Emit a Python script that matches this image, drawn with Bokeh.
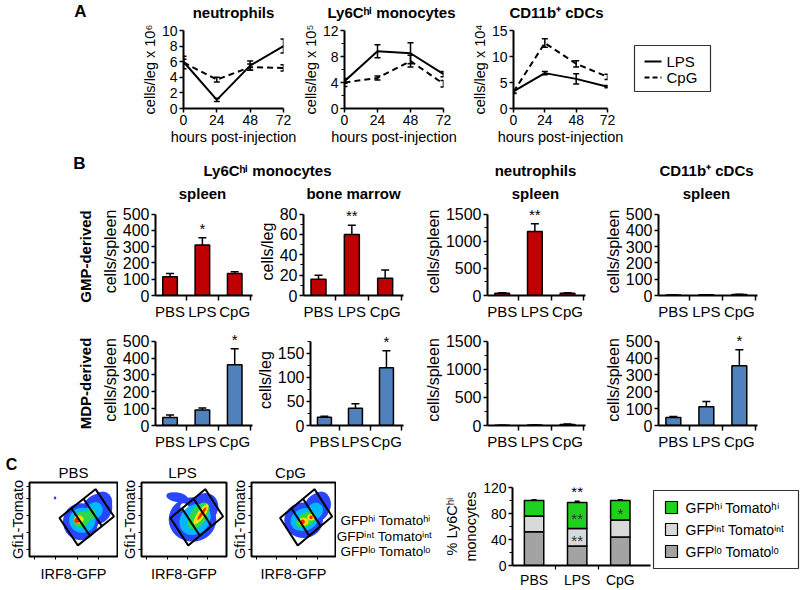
from bokeh.plotting import figure
from bokeh.models import (ColumnDataSource, Range1d, FixedTicker, Whisker, TeeHead,
                          CustomJSTickFormatter)
from bokeh.layouts import row, column
from bokeh.core.properties import value
from bokeh.embed import file_html
from bokeh.resources import INLINE

FONT = "Liberation Sans"

# ---------------- Panel A data (time course) ----------------
hours = [0, 24, 48, 72]
neut_lps = [6.0, 1.1, 5.5, 8.0]
neut_lps_err = [0.3, 0.2, 0.6, 0.9]
neut_cpg = [5.9, 3.7, 5.3, 5.2]
neut_cpg_err = [0.8, 0.3, 0.4, 0.4]
mono_lps = [4.2, 8.8, 8.5, 5.3]
mono_lps_err = [0.3, 1.0, 1.6, 0.4]
mono_cpg = [4.0, 4.7, 7.3, 3.8]
mono_cpg_err = [0.6, 0.3, 0.9, 0.5]
cdc_lps = [3.3, 6.8, 5.7, 4.2]
cdc_lps_err = [0.3, 0.3, 1.0, 0.2]
cdc_cpg = [3.2, 12.6, 8.6, 6.1]
cdc_cpg_err = [0.3, 0.8, 0.6, 0.5]

# ---------------- Panel B data (bars) ----------------
treatments = ["PBS", "LPS", "CpG"]
gmp_mono_spleen = [115, 310, 135]
gmp_mono_spleen_err = [20, 45, 10]
gmp_mono_spleen_sig = ["", "*", ""]
gmp_mono_bm = [16, 60, 17]
gmp_mono_bm_err = [4, 9, 8]
gmp_mono_bm_sig = ["", "**", ""]
gmp_neut_spleen = [40, 1180, 40]
gmp_neut_spleen_err = [10, 140, 12]
gmp_neut_spleen_sig = ["", "**", ""]
gmp_cdc_spleen = [3, 4, 6]
gmp_cdc_spleen_err = [1, 1, 2]
gmp_cdc_spleen_sig = ["", "", ""]
mdp_mono_spleen = [48, 92, 360]
mdp_mono_spleen_err = [15, 12, 95]
mdp_mono_spleen_sig = ["", "", "*"]
mdp_mono_bm = [17, 36, 120]
mdp_mono_bm_err = [2, 9, 35]
mdp_mono_bm_sig = ["", "", "*"]
mdp_neut_spleen = [3, 8, 20]
mdp_neut_spleen_err = [1, 3, 6]
mdp_neut_spleen_sig = ["", "", ""]
mdp_cdc_spleen = [47, 112, 355]
mdp_cdc_spleen_err = [7, 30, 95]
mdp_cdc_spleen_sig = ["", "", "*"]

# ---------------- Panel C data (stacked %) ----------------
gfp_lo = [52, 30, 44]
gfp_lo_err = [3, 4, 3]
gfp_int = [24, 27, 26]
gfp_int_err = [1, 2, 2]
gfp_hi = [24, 40, 30]
gfp_hi_err = [1, 2, 1]
sig_total = ["", "**", ""]
sig_hi = ["", "**", "*"]
sig_int = ["", "**", ""]

# flow density levels (blue, cyan, green, yellow, red, white)
level_colors = ["#2a45ff", "#00b8ff", "#2ed84a", "#ffe000", "#ff2200", "#ffffff"]
pbs_bx = [58, 77, 83, 29, 60, 74, 59, 70, 56, 54]
pbs_by = [47, 64, 74, 79, 49, 62, 50, 57, 50, 49]
pbs_bw = [40, 32, 22, 3, 30, 18, 20, 11, 11, 6]
pbs_bh = [50, 44, 28, 4, 34, 24, 20, 15, 11, 7]
pbs_ba = [0, -40, 0, 0, 0, -30, 30, -30, 0, 0]
pbs_bl = [0, 0, 0, 0, 1, 1, 2, 2, 3, 4]
lps_bx = [60, 74, 42, 51, 63, 67, 70, 71]
lps_by = [50, 66, 80, 66, 50, 55, 57, 58]
lps_bw = [56, 32, 26, 12, 40, 36, 28, 18]
lps_bh = [60, 40, 13, 10, 38, 22, 10, 4]
lps_ba = [0, -30, -10, -40, 45, 55, 55, 55]
lps_bl = [0, 0, 0, 5, 1, 2, 3, 4]
cpg_bx = [62, 78, 83, 63, 76, 65, 62, 71, 61, 71]
cpg_by = [49, 66, 76, 50, 62, 50, 47, 53, 47, 53]
cpg_bw = [46, 30, 20, 34, 18, 26, 12, 9, 5, 4]
cpg_bh = [48, 44, 24, 30, 22, 18, 11, 9, 6, 5]
cpg_ba = [0, -35, 0, 20, -30, 30, 0, 0, 0, 0]
cpg_bl = [0, 0, 0, 1, 1, 2, 3, 3, 4, 4]
gate_corner_x = [34, 75, 55]   # lower-left, upper, lower corners
gate_corner_y = [52, 91, 15]

RED = "#C00000"
BLUE = "#4F81BD"
GREEN = "#1FD01F"
LGREY = "#D9D9D9"
DGREY = "#A3A3A3"


def canvas(x0, x1, y0, y1):
    p = figure(width=x1 - x0, height=y1 - y0, x_range=Range1d(x0, x1),
               y_range=Range1d(y1, y0), x_axis_type=None, y_axis_type=None,
               toolbar_location=None, output_backend="svg", min_border=0)
    p.outline_line_color = None
    return p


def put(p, x, y, s, size, bold=False, align="center", angle=0.0):
    p.text(x=[x], y=[y], text=[s], text_font=value(FONT),
           text_font_size=f"{size}px", text_font_style="bold" if bold else "normal",
           text_align=align, text_baseline="middle", angle=angle, text_color="black")


def style(p, tick_px, label_px):
    p.xgrid.visible = False
    p.ygrid.visible = False
    p.outline_line_color = None
    for ax in list(p.xaxis) + list(p.yaxis):
        ax.axis_line_width = 2
        ax.axis_line_color = "black"
        ax.major_tick_line_width = 1.5
        ax.major_tick_line_color = "black"
        ax.major_tick_out = 4
        ax.major_tick_in = 0
        ax.minor_tick_line_width = 1.2
        ax.minor_tick_line_color = "black"
        ax.minor_tick_out = 3
        ax.minor_tick_in = 0
        ax.major_label_text_font = FONT
        ax.major_label_text_font_size = f"{tick_px}px"
        ax.major_label_text_color = "black"
        ax.major_label_standoff = 2
        ax.axis_label_text_font = FONT
        ax.axis_label_text_font_size = f"{label_px}px"
        ax.axis_label_text_font_style = "normal"
        ax.axis_label_text_color = "black"
        ax.axis_label_standoff = 1


def line_chart(width, left, right, ymax, yticks, yminor, ylabel, lps, lps_err, cpg, cpg_err):
    p = figure(width=width, height=130, x_range=Range1d(0, 72), y_range=Range1d(0, ymax),
               min_border_left=left, min_border_right=right, min_border_top=8,
               min_border_bottom=44, toolbar_location=None, output_backend="svg")
    style(p, 14, 14.5)
    p.xaxis.ticker = FixedTicker(ticks=hours)
    p.yaxis.ticker = FixedTicker(ticks=yticks, minor_ticks=yminor)
    p.xaxis.axis_label = "hours post-injection"
    p.yaxis.axis_label = ylabel
    for vals, errs, dash in ((lps, lps_err, "solid"), (cpg, cpg_err, "6 4")):
        p.line(hours, vals, line_color="black", line_width=2, line_dash=dash)
        src = ColumnDataSource(dict(x=hours, lo=[v - e for v, e in zip(vals, errs)],
                                    hi=[v + e for v, e in zip(vals, errs)]))
        p.add_layout(Whisker(source=src, base="x", lower="lo", upper="hi",
                             line_color="black", line_width=1.5,
                             lower_head=TeeHead(size=6, line_width=1.5, line_color="black"),
                             upper_head=TeeHead(size=6, line_width=1.5, line_color="black")))
    return p


def bar_chart(width, height, left, right, top, bottom, ymax, yticks, yminor, ylabel,
              vals, errs, sig, color):
    p = figure(width=width, height=height, x_range=Range1d(-0.45, 2.55),
               y_range=Range1d(0, ymax * 1.08), min_border_left=left,
               min_border_right=right, min_border_top=top, min_border_bottom=bottom,
               toolbar_location=None, output_backend="svg")
    style(p, 16, 16)
    p.xaxis.major_label_text_font_size = "15px"
    xs = list(range(len(treatments)))
    p.vbar(x=xs, top=vals, width=0.45, fill_color=color, line_color="black", line_width=1.5)
    src = ColumnDataSource(dict(x=xs, lo=vals, hi=[v + e for v, e in zip(vals, errs)]))
    p.add_layout(Whisker(source=src, base="x", lower="lo", upper="hi", line_color="black",
                         line_width=1.5, lower_head=None,
                         upper_head=TeeHead(size=8, line_width=1.5, line_color="black")))
    p.text(x=xs, y=[v + e for v, e in zip(vals, errs)], text=sig, text_font=value(FONT),
           text_font_size="15px", text_align="center", text_baseline="bottom",
           y_offset=-1, text_color="black")
    p.yaxis.ticker = FixedTicker(ticks=yticks, minor_ticks=yminor)
    p.yaxis.bounds = (0, ymax)
    p.yaxis.axis_label = ylabel
    p.xaxis.ticker = FixedTicker(ticks=xs, minor_ticks=[0.5, 1.5, 2.5])
    p.xaxis.major_label_overrides = {i: t for i, t in enumerate(treatments)}
    p.xaxis.major_tick_out = 0
    p.xaxis.minor_tick_out = 5
    p.xaxis.minor_tick_line_width = 1.5
    return p


def flow_chart(width, left, right, bx, by, bw, bh, ba, bl):
    p = figure(width=width, height=110, x_range=Range1d(0, 100), y_range=Range1d(0, 100),
               min_border_left=left, min_border_right=right, min_border_top=2,
               min_border_bottom=34, toolbar_location=None, output_backend="svg")
    style(p, 10, 14.5)
    p.outline_line_color = "black"
    p.outline_line_width = 2
    p.outline_line_alpha = 1
    for ax in list(p.xaxis) + list(p.yaxis):
        ax.axis_line_color = None
        ax.major_tick_out = 3
        ax.major_tick_line_width = 1
        ax.formatter = CustomJSTickFormatter(code="return ''")
        ax.major_label_text_font_size = "0px"
        ax.major_label_standoff = 0
        ax.axis_label_standoff = 1
    p.xaxis.axis_label_standoff = 6
    p.xaxis.ticker = FixedTicker(ticks=[6, 30, 54, 78], minor_ticks=[])
    p.yaxis.ticker = FixedTicker(ticks=[10, 32, 55, 78, 95], minor_ticks=[])
    p.xaxis.axis_label = "IRF8-GFP"
    p.yaxis.axis_label = "Gfi1-Tomato"
    p.ellipse(x=bx, y=by, width=bw, height=bh, angle=ba, angle_units="deg",
              fill_color=[level_colors[i] for i in bl], line_color=None)
    lx, tx, bxx = gate_corner_x
    ly, ty, byy = gate_corner_y
    rx, ry = tx + bxx - lx, ty + byy - ly
    p.patch([lx, tx, rx, bxx], [ly, ty, ry, byy], fill_color=None, line_color="black",
            line_width=2)
    x0s, y0s, x1s, y1s = [], [], [], []
    for t in (1 / 3, 2 / 3):
        sx, sy = lx + t * (tx - lx), ly + t * (ty - ly)
        x0s.append(sx)
        y0s.append(sy)
        x1s.append(sx + bxx - lx)
        y1s.append(sy + byy - ly)
    p.segment(x0=x0s, y0=y0s, x1=x1s, y1=y1s, line_color="black", line_width=2)
    return p


# ================= Panel A =================
a_titles = canvas(0, 800, 0, 22)
put(a_titles, 80, 11, "A", 17, bold=True)
put(a_titles, 233, 12, "neutrophils", 15, bold=True)
put(a_titles, 391, 12, "Ly6Cʰⁱ monocytes", 15, bold=True)
put(a_titles, 556, 12, "CD11b⁺ cDCs", 15, bold=True)

a1 = line_chart(299, 183, 16, 10, [0, 2, 4, 6, 8, 10], [], "cells/leg x 10⁶",
                neut_lps, neut_lps_err, neut_cpg, neut_cpg_err)
a2 = line_chart(169, 41, 25, 12, [0, 4, 8, 12], [2, 6, 10], "cells/leg x 10⁵",
                mono_lps, mono_lps_err, mono_cpg, mono_cpg_err)
a3 = line_chart(156, 38, 17, 15, [0, 5, 10, 15], [], "cells/leg x 10⁴",
                cdc_lps, cdc_lps_err, cdc_cpg, cdc_cpg_err)

a_leg = canvas(624, 800, 22, 152)
a_leg.quad(left=[634], right=[710], top=[45], bottom=[91], fill_color=None,
           line_color="#333333", line_width=1.2)
a_leg.line([644, 661], [61, 61], line_color="black", line_width=2)
a_leg.line([644, 661], [77, 77], line_color="black", line_width=2, line_dash="5 3")
put(a_leg, 666, 61, "LPS", 15, align="left")
put(a_leg, 666, 77, "CpG", 15, align="left")

row_a = row(a1, a2, a3, column(a_leg))

# ================= Panel B =================
b_head = canvas(0, 800, 152, 205)
put(b_head, 79, 163, "B", 17, bold=True)
put(b_head, 267, 170, "Ly6Cʰⁱ monocytes", 15, bold=True)
put(b_head, 202, 193, "spleen", 15, bold=True)
put(b_head, 353, 193, "bone marrow", 15, bold=True)
put(b_head, 535, 170, "neutrophils", 15, bold=True)
put(b_head, 535, 193, "spleen", 15, bold=True)
put(b_head, 706, 170, "CD11b⁺ cDCs", 15, bold=True)
put(b_head, 706, 193, "spleen", 15, bold=True)

b_left = canvas(0, 98, 205, 452)
put(b_left, 85, 256, "GMP-derived", 15, bold=True, angle=1.5708)
put(b_left, 85, 383, "MDP-derived", 15, bold=True, angle=1.5708)

TH, TT, TB = 117, 2, 24
BH, BT, BB = 130, 12, 27
b1 = bar_chart(155, TH, 54, 1, TT, TB, 500, [0, 100, 200, 300, 400, 500], [],
               "cells/spleen", gmp_mono_spleen, gmp_mono_spleen_err, gmp_mono_spleen_sig, RED)
b2 = bar_chart(168, TH, 50, 18, TT, TB, 80, [0, 20, 40, 60, 80], [10, 30, 50, 70],
               "cells/leg", gmp_mono_bm, gmp_mono_bm_err, gmp_mono_bm_sig, RED)
b3 = bar_chart(180, TH, 64, 16, TT, TB, 1500, [0, 500, 1000, 1500], [250, 750, 1250],
               "cells/spleen", gmp_neut_spleen, gmp_neut_spleen_err, gmp_neut_spleen_sig, RED)
b4 = bar_chart(199, TH, 54, 43, TT, TB, 500, [0, 100, 200, 300, 400, 500], [],
               "cells/spleen", gmp_cdc_spleen, gmp_cdc_spleen_err, gmp_cdc_spleen_sig, RED)
b5 = bar_chart(155, BH, 54, 1, BT, BB, 500, [0, 100, 200, 300, 400, 500], [],
               "cells/spleen", mdp_mono_spleen, mdp_mono_spleen_err, mdp_mono_spleen_sig, BLUE)
b6 = bar_chart(168, BH, 50, 18, BT, BB, 175, [0, 50, 100, 150], [25, 75, 125, 175],
               "cells/leg", mdp_mono_bm, mdp_mono_bm_err, mdp_mono_bm_sig, BLUE)
b7 = bar_chart(180, BH, 64, 16, BT, BB, 1500, [0, 500, 1000, 1500], [250, 750, 1250],
               "cells/spleen", mdp_neut_spleen, mdp_neut_spleen_err, mdp_neut_spleen_sig, BLUE)
b8 = bar_chart(199, BH, 54, 43, BT, BB, 500, [0, 100, 200, 300, 400, 500], [],
               "cells/spleen", mdp_cdc_spleen, mdp_cdc_spleen_err, mdp_cdc_spleen_sig, BLUE)

body_b = row(b_left, column(row(b1, b2, b3, b4), row(b5, b6, b7, b8)))

# ================= Panel C =================
c_head = canvas(0, 800, 452, 480)
put(c_head, 11, 464, "C", 16, bold=True)
put(c_head, 73, 472, "PBS", 15)
put(c_head, 182, 472, "LPS", 15)
put(c_head, 290, 472, "CpG", 15)

f1 = flow_chart(118, 29, 1, pbs_bx, pbs_by, pbs_bw, pbs_bh, pbs_ba, pbs_bl)
f2 = flow_chart(110, 20, 2, lps_bx, lps_by, lps_bw, lps_bh, lps_ba, lps_bl)
f3 = flow_chart(108, 20, 1, cpg_bx, cpg_by, cpg_bw, cpg_bh, cpg_ba, cpg_bl)

gate_txt = canvas(336, 440, 480, 590)
put(gate_txt, 385, 520, "GFPʰⁱ Tomatoʰⁱ", 13.5)
put(gate_txt, 384, 536, "GFPⁱⁿᵗ Tomatoⁱⁿᵗ", 13.5)
put(gate_txt, 385, 551, "GFPˡᵒ Tomatoˡᵒ", 13.5)

st = figure(width=212, height=110, x_range=Range1d(-0.5, 2.7), y_range=Range1d(0, 120),
            min_border_left=68, min_border_right=2, min_border_top=7, min_border_bottom=20,
            toolbar_location=None, output_backend="svg")
style(st, 14, 14.5)
xs = list(range(len(treatments)))
lo_top = gfp_lo
int_top = [a + b for a, b in zip(gfp_lo, gfp_int)]
hi_top = [a + b for a, b in zip(int_top, gfp_hi)]
for bot, top, col in (([0, 0, 0], lo_top, DGREY), (lo_top, int_top, LGREY), (int_top, hi_top, GREEN)):
    st.vbar(x=xs, bottom=bot, top=top, width=0.45, fill_color=col, line_color="black",
            line_width=1.5)
for top, err in ((lo_top, gfp_lo_err), (int_top, gfp_int_err), (hi_top, gfp_hi_err)):
    src = ColumnDataSource(dict(x=xs, lo=[t - e for t, e in zip(top, err)],
                                hi=[t + e for t, e in zip(top, err)]))
    st.add_layout(Whisker(source=src, base="x", lower="lo", upper="hi", line_color="black",
                          line_width=1.5,
                          lower_head=TeeHead(size=5, line_width=1.5, line_color="black"),
                          upper_head=TeeHead(size=5, line_width=1.5, line_color="black")))
st.text(x=xs, y=[t + e for t, e in zip(hi_top, gfp_hi_err)], text=sig_total,
        text_font=value(FONT), text_font_size="15px", text_align="center",
        text_baseline="bottom", y_offset=-1, text_color="black")
st.text(x=xs, y=[(a + b) / 2 for a, b in zip(int_top, hi_top)], text=sig_hi,
        text_font=value(FONT), text_font_size="15px", text_align="center",
        text_baseline="middle", y_offset=3, text_color="#333333")
st.text(x=xs, y=[(a + b) / 2 for a, b in zip(lo_top, int_top)], text=sig_int,
        text_font=value(FONT), text_font_size="15px", text_align="center",
        text_baseline="middle", y_offset=3, text_color="#333333")
st.yaxis.ticker = FixedTicker(ticks=[0, 40, 80, 120], minor_ticks=[20, 60, 100])
st.yaxis.axis_label = "% Ly6Cʰⁱ\nmonocytes"
st.xaxis.ticker = FixedTicker(ticks=xs, minor_ticks=[0.5, 1.5])
st.xaxis.major_label_overrides = {i: t for i, t in enumerate(treatments)}
st.xaxis.major_tick_out = 0
st.xaxis.minor_tick_out = 4

c_leg = canvas(652, 800, 480, 590)
c_leg.quad(left=[653], right=[798], top=[490], bottom=[568], fill_color=None,
           line_color="#333333", line_width=1.2)
c_leg.rect(x=[671, 671, 671], y=[507, 529, 551], width=12, height=12,
           fill_color=[GREEN, LGREY, DGREY], line_color="black", line_width=1.2)
put(c_leg, 685, 507, "GFPʰⁱ Tomatoʰⁱ", 14, align="left")
put(c_leg, 685, 529, "GFPⁱⁿᵗ Tomatoⁱⁿᵗ", 14, align="left")
put(c_leg, 685, 551, "GFPˡᵒ Tomatoˡᵒ", 14, align="left")

row_c = row(f1, f2, f3, column(gate_txt), column(st), column(c_leg))

layout = column(a_titles, row_a, b_head, body_b, c_head, row_c)

with open("out.html", "w") as fh:
    fh.write(file_html(layout, INLINE))
